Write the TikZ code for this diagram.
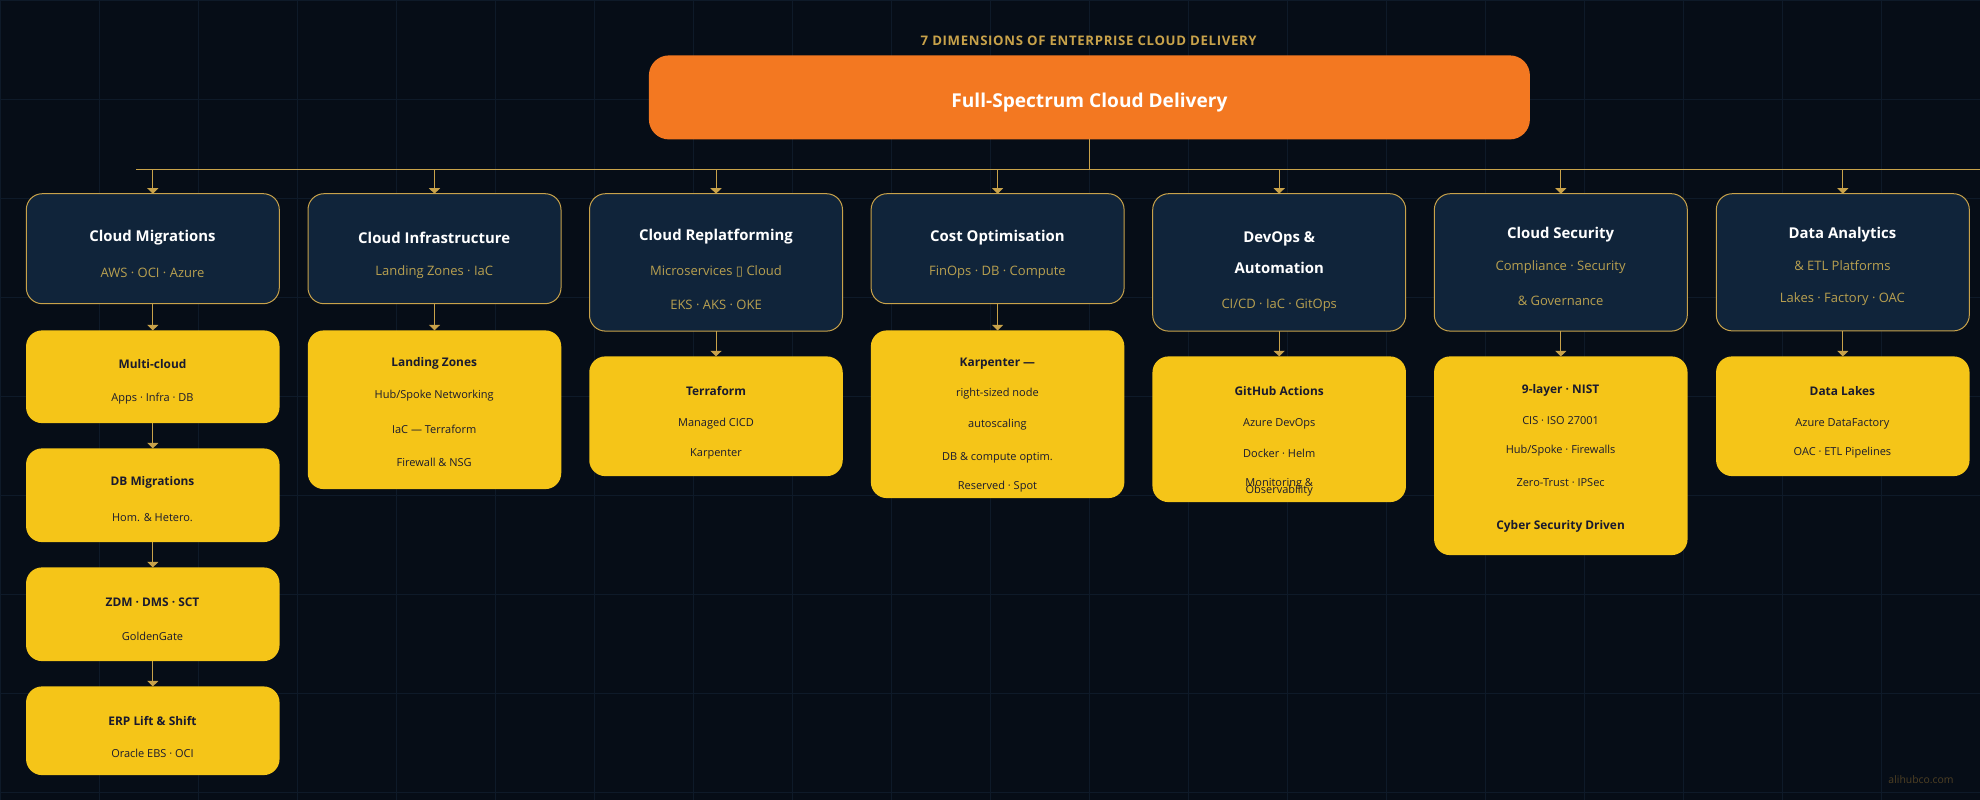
\documentclass[tikz,border=0pt]{standalone}
\usepackage{fontspec}
\setmainfont{Open Sans}
\newfontfamily\dejavu{DejaVu Sans}
\newfontfamily\spaced[LetterSpace=5]{Open Sans}
\usetikzlibrary{arrows.meta}
\definecolor{bgc}{HTML}{060D17}
\definecolor{gridc}{HTML}{0E1A29}
\definecolor{cardc}{HTML}{10243A}
\definecolor{goldc}{HTML}{C8A24A}
\definecolor{subc}{HTML}{B8A050}
\definecolor{yelc}{HTML}{F5C518}
\definecolor{orc}{HTML}{F37821}
\definecolor{inkc}{HTML}{1A1A2E}
\definecolor{wmc}{HTML}{4F4024}
\tikzset{
  boxbase/.style={rectangle,inner sep=0pt,outer sep=0pt},
  cardbox/.style={boxbase,draw=goldc,line width=1pt,fill=cardc,rounded corners=16pt},
  yelbox/.style={boxbase,fill=yelc,rounded corners=16pt},
  rootbox/.style={boxbase,fill=orc,rounded corners=20pt},
  txtbase/.style={inner sep=0pt,outer sep=0pt,text height=.75em,text depth=.2em,anchor=center},
  cardtitle/.style={txtbase,yshift=-1pt,text=white,font=\fontsize{14.9}{18}\selectfont\bfseries},
  cardsub/.style={txtbase,text=subc,font=\fontsize{13}{15}\selectfont},
  yeltitle/.style={txtbase,text=inkc,font=\fontsize{11.9}{14}\selectfont\bfseries},
  yelsub/.style={txtbase,text=inkc,font=\fontsize{11}{13}\selectfont},
  conn/.style={draw=goldc,line width=1pt},
  arr/.style={conn,-{Triangle[width=11pt,length=5.5pt]}},
}
\newcommand{\bx}[6]{% style,name,cx,top,bottom,width
  \pgfmathsetmacro{\cyv}{(#4+#5)/2+.4}\pgfmathsetmacro{\hv}{#5-#4}
  \node[#1,minimum width=#6 pt,minimum height=\hv pt] (#2) at (#3,\cyv) {};}
\newcommand{\tx}[5]{\pgfmathsetmacro{\tyv}{#4+2.6}\node[#1] (#2) at (#3,\tyv) {#5};}
\begin{document}
\begin{tikzpicture}[x=1pt,y=-1pt]
\useasboundingbox (0,0) rectangle (1980,800);
\fill[bgc] (0,0) rectangle (1980,800);
\foreach \k in {0,...,19} {\draw[gridc,line width=1pt] (99*\k+.5,0) -- (99*\k+.5,800);}
\foreach \k in {0,...,8} {\draw[gridc,line width=1pt] (0,99*\k+.5) -- (1980,99*\k+.5);}

\tx{txtbase,text=goldc,font=\fontsize{13.2}{15}\selectfont\bfseries\spaced}{head}{1089}{40}{\textbf{7 DIMENSIONS OF ENTERPRISE CLOUD DELIVERY}}
\bx{rootbox}{root}{1089.4}{55}{139}{881}
\tx{txtbase,text=white,font=\fontsize{19.1}{22}\selectfont\bfseries}{roott}{1089.4}{102.4}{Full-Spectrum Cloud Delivery}

\coordinate (busL) at (136,169.5);
\coordinate (busR) at (1980,169.5);
\draw[conn,line width=1.3pt] (busL) -- (busR);
\draw[conn] (root.south) -- (root.south |- busL);

% column 1
\bx{cardbox}{c1}{152.8}{193.3}{303.3}{253}
\tx{cardtitle}{c1a}{152.5}{234.7}{Cloud Migrations}
\tx{cardsub}{c1b}{152.5}{271.7}{AWS · OCI · Azure}
\bx{yelbox}{y1a}{152.8}{330}{422.7}{253.5}
\tx{yeltitle}{y1at}{152.5}{362.7}{Multi-cloud}
\tx{yelsub}{y1as}{152.5}{395.7}{Apps · Infra · DB}
\bx{yelbox}{y1b}{152.8}{448}{541.7}{253.5}
\tx{yeltitle}{y1bt}{152.5}{480}{DB Migrations}
\tx{yelsub}{y1bs}{152.5}{516}{Hom. \& Hetero.}
\bx{yelbox}{y1c}{152.8}{567}{660.7}{253.5}
\tx{yeltitle}{y1ct}{152.5}{600.7}{ZDM · DMS · SCT}
\tx{yelsub}{y1cs}{152.5}{635}{GoldenGate}
\bx{yelbox}{y1d}{152.8}{686}{774.7}{253.5}
\tx{yeltitle}{y1dt}{152.5}{719.7}{ERP Lift \& Shift}
\tx{yelsub}{y1ds}{152.5}{752}{Oracle EBS · OCI}

% column 2
\bx{cardbox}{c2}{434.5}{193.3}{303.3}{253}
\tx{cardtitle}{c2a}{434.2}{236.7}{Cloud Infrastructure}
\tx{cardsub}{c2b}{434.2}{269.7}{Landing Zones · IaC}
\bx{yelbox}{y2}{434.5}{330}{488.7}{253.5}
\tx{yeltitle}{y2a}{434.2}{361}{Landing Zones}
\tx{yelsub}{y2b}{434.2}{393.3}{Hub/Spoke Networking}
\tx{yelsub}{y2c}{434.2}{428.3}{IaC — Terraform}
\tx{yelsub}{y2d}{434.2}{461}{Firewall \& NSG}

% column 3
\bx{cardbox}{c3}{716}{193.3}{330.7}{253}
\tx{cardtitle}{c3a}{716}{234.3}{Cloud Replatforming}
\tx{cardsub}{c3b}{716}{270.3}{Microservices {\dejavu ▯} Cloud}
\tx{cardsub}{c3c}{716}{304.3}{EKS · AKS · OKE}
\bx{yelbox}{y3}{716}{356}{475.7}{253.5}
\tx{yeltitle}{y3a}{716}{390}{Terraform}
\tx{yelsub}{y3b}{716}{421}{Managed CICD}
\tx{yelsub}{y3c}{716}{451.3}{Karpenter}

% column 4
\bx{cardbox}{c4}{997.6}{193.3}{303.3}{253}
\tx{cardtitle}{c4a}{997.4}{234.7}{Cost Optimisation}
\tx{cardsub}{c4b}{997.4}{269.7}{FinOps · DB · Compute}
\bx{yelbox}{y4}{997.6}{330}{497.7}{253.5}
\tx{yeltitle}{y4a}{997.4}{361}{Karpenter —}
\tx{yelsub}{y4b}{997.4}{391.3}{right-sized node}
\tx{yelsub}{y4c}{997.4}{422.3}{autoscaling}
\tx{yelsub}{y4d}{997.4}{455.3}{DB \& compute optim.}
\tx{yelsub}{y4e}{997.4}{484.3}{Reserved · Spot}

% column 5
\bx{cardbox}{c5}{1279.2}{193.3}{330.7}{253}
\tx{cardtitle}{c5a}{1279.2}{235.7}{DevOps \&}
\tx{cardtitle}{c5b}{1279.2}{266.7}{Automation}
\tx{cardsub}{c5c}{1279.2}{302.7}{CI/CD · IaC · GitOps}
\bx{yelbox}{y5}{1279.2}{356}{501.7}{253.5}
\tx{yeltitle}{y5a}{1279.2}{390}{GitHub Actions}
\tx{yelsub}{y5b}{1279.2}{421}{Azure DevOps}
\tx{yelsub}{y5c}{1279.2}{452}{Docker · Helm}
\tx{yelsub}{y5d}{1279.2}{481.3}{Monitoring \&}
\tx{yelsub}{y5e}{1279.2}{488.3}{Observability}

% column 6
\bx{cardbox}{c6}{1560.8}{193.3}{330.7}{253}
\tx{cardtitle}{c6a}{1560.6}{231.7}{Cloud Security}
\tx{cardsub}{c6b}{1560.6}{264.7}{Compliance · Security}
\tx{cardsub}{c6c}{1560.6}{299.7}{\& Governance}
\bx{yelbox}{y6}{1560.8}{356}{554.7}{253.5}
\tx{yeltitle}{y6a}{1560.6}{387.7}{9-layer · NIST}
\tx{yelsub}{y6b}{1560.6}{419}{CIS · ISO 27001}
\tx{yelsub}{y6c}{1560.6}{448}{Hub/Spoke · Firewalls}
\tx{yelsub}{y6d}{1560.6}{481}{Zero-Trust · IPSec}
\tx{yeltitle}{y6e}{1560.6}{523.7}{Cyber Security Driven}

% column 7
\bx{cardbox}{c7}{1842.8}{193.3}{330.5}{253}
\tx{cardtitle}{c7a}{1842.4}{231.7}{Data Analytics}
\tx{cardsub}{c7b}{1842.4}{265.3}{\& ETL Platforms}
\tx{cardsub}{c7c}{1842.4}{297.3}{Lakes · Factory · OAC}
\bx{yelbox}{y7}{1842.8}{356}{475.7}{253.5}
\tx{yeltitle}{y7a}{1842.4}{389.7}{Data Lakes}
\tx{yelsub}{y7b}{1842.4}{421}{Azure DataFactory}
\tx{yelsub}{y7c}{1842.4}{450}{OAC · ETL Pipelines}

% connectors
\foreach \n in {c1,c2,c3,c4,c5,c6,c7} {\draw[arr] (\n.north |- busL) -- (\n.north);}
\draw[arr] (c1.south) -- (y1a.north);
\draw[arr] (y1a.south) -- (y1b.north);
\draw[arr] (y1b.south) -- (y1c.north);
\draw[arr] (y1c.south) -- (y1d.north);
\draw[arr] (c2.south) -- (y2.north);
\draw[arr] (c3.south) -- (y3.north);
\draw[arr] (c4.south) -- (y4.north);
\draw[arr] (c5.south) -- (y5.north);
\draw[arr] (c6.south) -- (y6.north);
\draw[arr] (c7.south) -- (y7.north);

\tx{txtbase,text=wmc,font=\fontsize{10.4}{13}\selectfont}{wm}{1921}{778}{alihubco.com}
\end{tikzpicture}
\end{document}
